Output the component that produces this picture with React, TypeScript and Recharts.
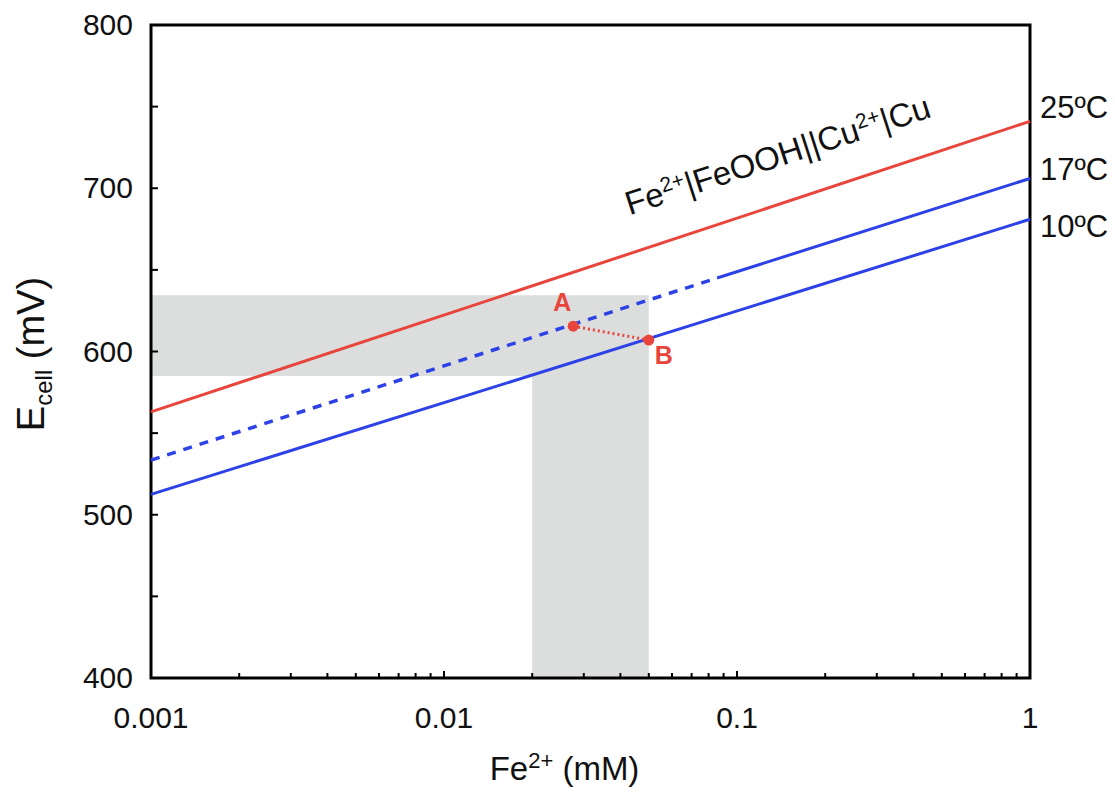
import { ComposedChart, Line, Scatter, XAxis, YAxis, ReferenceArea } from 'recharts';

const FONT = '"Liberation Sans", Arial, Helvetica, sans-serif';
const RED = '#e8453c';
const BLUE = '#2d42e6';
const GREY = '#dcdddd';

// x = Fe2+ (mM), log scale; y = Ecell (mV)
const xMajorTicks = [0.001, 0.01, 0.1, 1];
const xMinorSteps = [2, 3, 4, 5, 6, 7, 8, 9];
const yTicks = [400, 450, 500, 550, 600, 650, 700, 750, 800];
const yLabelTicks = [400, 500, 600, 700, 800];

// Nernst lines
const line25 = [{ c: 0.001, e: 563 }, { c: 1, e: 741 }];
const line17Dashed = [{ c: 0.001, e: 533.5 }, { c: 0.0855, e: 645 }];
const line17Solid = [{ c: 0.0855, e: 645 }, { c: 1, e: 706 }];
const line10 = [{ c: 0.001, e: 512.5 }, { c: 1, e: 681 }];

// points A and B
const pointsAB = [
  { c: 0.0276, e: 615.5, name: 'A' },
  { c: 0.05, e: 607, name: 'B' },
];

// shaded ranges
const bandH = { c1: 0.001, c2: 0.05, e1: 585, e2: 634.5 };
const bandV = { c1: 0.02, c2: 0.05, e1: 400, e2: 585 };

// text anchors
const tempLabels = [
  { c: 1, e: 750, t: '25ºC' },
  { c: 1, e: 712, t: '17ºC' },
  { c: 1, e: 677, t: '10ºC' },
];
const cellLabel = [{ c: 0.043, e: 683.5 }];

const xTicks = xMajorTicks
  .slice(0, -1)
  .flatMap(d => [d, ...xMinorSteps.map(s => Number((d * s).toPrecision(3)))])
  .concat([1]);

function XTick(props: any) {
  const { x, y, payload } = props;
  const major = xMajorTicks.includes(payload.value);
  return (
    <g>
      <line x1={x} x2={x} y1={y} y2={y - (major ? 7 : 5)} stroke="#000" strokeWidth={2} />
      {major && (
        <text x={x} y={y + 50} textAnchor="middle" fontSize={30} fontFamily={FONT} fill="#111">
          {String(payload.value)}
        </text>
      )}
    </g>
  );
}

function YTick(props: any) {
  const { x, y, payload } = props;
  const labelled = yLabelTicks.includes(payload.value);
  return (
    <g>
      <line x1={x} x2={x + 7} y1={y} y2={y} stroke="#000" strokeWidth={2} />
      {labelled && (
        <text x={x - 18} y={y + 10} textAnchor="end" fontSize={30} fontFamily={FONT} fill="#111">
          {payload.value}
        </text>
      )}
    </g>
  );
}

function XTitle(props: any) {
  const vb = props.viewBox;
  return (
    <text x={vb.x + vb.width / 2 - 26} y={vb.y + 102} textAnchor="middle" fontSize={33} fontFamily={FONT} fill="#111">
      Fe<tspan fontSize={22} dy={-12}>2+</tspan>
      <tspan dy={12}> (mM)</tspan>
    </text>
  );
}

function YTitle(props: any) {
  const vb = props.viewBox;
  const cx = vb.x + 36;
  const cy = 346;
  return (
    <text x={cx} y={cy} transform={`rotate(-90 ${cx} ${cy})`} textAnchor="middle" fontSize={38} fontFamily={FONT} fill="#111">
      E<tspan fontSize={24} dy={8}>cell</tspan>
      <tspan dy={-8}> (mV)</tspan>
    </text>
  );
}

const renderAB = (p: any) => {
  const isB = p.payload.name === 'B';
  return (
    <g>
      <circle cx={p.cx} cy={p.cy} r={5.5} fill={RED} />
      <text
        x={p.cx + (isB ? 15 : -11)}
        y={p.cy + (isB ? 24 : -15)}
        textAnchor="middle"
        fontSize={25}
        fontWeight="bold"
        fontFamily={FONT}
        fill={RED}
      >
        {p.payload.name}
      </text>
    </g>
  );
};

const renderTemp = (p: any) => (
  <text x={p.cx + 10} y={p.cy + 11} fontSize={31} fontFamily={FONT} fill="#111">
    {p.payload.t}
  </text>
);

const renderCell = (p: any) => (
  <text
    x={p.cx}
    y={p.cy}
    transform={`rotate(-18 ${p.cx} ${p.cy})`}
    fontSize={33}
    fontFamily={FONT}
    fill="#111"
  >
    Fe<tspan fontSize={21} dy={-11}>2+</tspan>
    <tspan dy={11}>|FeOOH||Cu</tspan>
    <tspan fontSize={21} dy={-11}>2+</tspan>
    <tspan dy={11}>|Cu</tspan>
  </text>
);

export default function App() {
  return (
    <ComposedChart width={1105} height={785} margin={{ top: 17, right: 83, bottom: 0, left: 0 }}>
      <XAxis
        dataKey="c"
        type="number"
        scale="log"
        domain={[0.001, 1]}
        ticks={xTicks}
        interval={0}
        tick={<XTick />}
        tickSize={0}
        tickMargin={0}
        tickLine={false}
        axisLine={false}
        height={115}
        label={<XTitle />}
      />
      <YAxis
        dataKey="e"
        type="number"
        domain={[400, 800]}
        ticks={yTicks}
        interval={0}
        tick={<YTick />}
        tickSize={0}
        tickMargin={0}
        tickLine={false}
        axisLine={false}
        width={143}
        label={<YTitle />}
      />
      <ReferenceArea x1={bandH.c1} x2={bandH.c2} y1={bandH.e1} y2={bandH.e2} fill={GREY} fillOpacity={1} stroke="none" />
      <ReferenceArea x1={bandV.c1} x2={bandV.c2} y1={bandV.e1} y2={bandV.e2} fill={GREY} fillOpacity={1} stroke="none" />
      <Line data={line25} dataKey="e" stroke={RED} strokeWidth={3} dot={false} isAnimationActive={false} />
      <Line data={line17Dashed} dataKey="e" stroke={BLUE} strokeWidth={3.5} strokeDasharray="9 8" dot={false} isAnimationActive={false} />
      <Line data={line17Solid} dataKey="e" stroke={BLUE} strokeWidth={3} dot={false} isAnimationActive={false} />
      <Line data={line10} dataKey="e" stroke={BLUE} strokeWidth={3} dot={false} isAnimationActive={false} />
      <Line data={pointsAB} dataKey="e" stroke={RED} strokeWidth={3} strokeDasharray="2 3" dot={false} isAnimationActive={false} />
      <Scatter data={pointsAB} dataKey="e" shape={renderAB} isAnimationActive={false} />
      <Scatter data={tempLabels} dataKey="e" shape={renderTemp} isAnimationActive={false} />
      <Scatter data={cellLabel} dataKey="e" shape={renderCell} isAnimationActive={false} />
      <ReferenceArea x1={0.001} x2={1} y1={400} y2={800} fill="none" stroke="#000" strokeWidth={3} />
    </ComposedChart>
  );
}
